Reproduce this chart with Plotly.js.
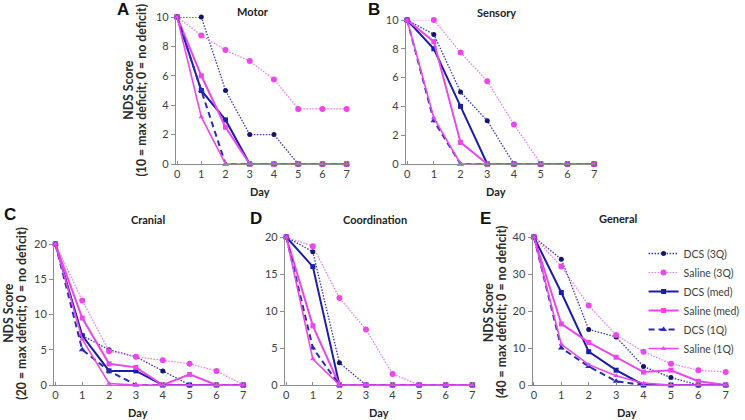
<!DOCTYPE html>
<html>
<head>
<meta charset="utf-8">
<script src="https://cdn.plot.ly/plotly-3.0.1.min.js"></script>
<style>
  html, body { margin: 0; padding: 0; background: #fff; }
  #chart { width: 745px; height: 420px; }
</style>
</head>
<body>
<div id="chart"></div>
<script>
const days = [0, 1, 2, 3, 4, 5, 6, 7];

const seriesNames = ["DCS (3Q)", "Saline (3Q)", "DCS (med)", "Saline (med)", "DCS (1Q)", "Saline (1Q)"];

// A - Motor
const motorDcs3Q = [10, 10, 5, 2, 2, 0, 0, 0];
const motorSal3Q = [10, 8.75, 7.75, 7, 5.75, 3.75, 3.75, 3.75];
const motorDcsMed = [10, 5, 3, 0, 0, 0, 0, 0];
const motorSalMed = [10, 6, 2.5, 0, 0, 0, 0, 0];
const motorDcs1Q = [10, 5, 0, 0, 0, 0, 0, 0];
const motorSal1Q = [10, 3.2, 0, 0, 0, 0, 0, 0];

// B - Sensory
const sensoryDcs3Q = [10, 9, 5, 3, 0, 0, 0, 0];
const sensorySal3Q = [10, 10, 7.75, 5.75, 2.75, 0, 0, 0];
const sensoryDcsMed = [10, 8, 4, 0, 0, 0, 0, 0];
const sensorySalMed = [10, 8.5, 1.5, 0, 0, 0, 0, 0];
const sensoryDcs1Q = [10, 3, 0, 0, 0, 0, 0, 0];
const sensorySal1Q = [10, 3.2, 0, 0, 0, 0, 0, 0];

// C - Cranial
const cranialDcs3Q = [20, 7, 5, 4, 2, 0, 0, 0];
const cranialSal3Q = [20, 12, 4.8, 4, 3.5, 3, 2, 0];
const cranialDcsMed = [20, 7, 2, 2, 0, 0, 0, 0];
const cranialSalMed = [20, 9.5, 3, 2.5, 0, 1.5, 0, 0];
const cranialDcs1Q = [20, 5, 2, 0, 0, 0, 0, 0];
const cranialSal1Q = [20, 6.5, 0.2, 0, 0, 0, 0, 0];

// D - Coordination
const coordDcs3Q = [20, 18, 3, 0, 0, 0, 0, 0];
const coordSal3Q = [20, 18.75, 11.75, 7.5, 1.5, 0, 0, 0];
const coordDcsMed = [20, 16, 0, 0, 0, 0, 0, 0];
const coordSalMed = [20, 8, 0, 0, 0, 0, 0, 0];
const coordDcs1Q = [20, 5, 0, 0, 0, 0, 0, 0];
const coordSal1Q = [20, 3.5, 0, 0, 0, 0, 0, 0];

// E - General
const generalDcs3Q = [40, 34, 15, 13, 5, 2, 0, 0];
const generalSal3Q = [40, 32, 21.5, 13.5, 9, 5.75, 4, 3.5];
const generalDcsMed = [40, 25, 9, 4, 0, 0, 0, 0];
const generalSalMed = [40, 16.5, 11.5, 7.5, 3.5, 4, 1, 0];
const generalDcs1Q = [40, 10, 5, 1, 0, 0, 0, 0];
const generalSal1Q = [40, 11, 5.5, 2.5, 0.5, 0, 0, 0];

const panels = [
  { key: "", label: "A", title: "Motor", max: 10, dtick: 2,
    data: [motorDcs3Q, motorSal3Q, motorDcsMed, motorSalMed, motorDcs1Q, motorSal1Q] },
  { key: "2", label: "B", title: "Sensory", max: 10, dtick: 2,
    data: [sensoryDcs3Q, sensorySal3Q, sensoryDcsMed, sensorySalMed, sensoryDcs1Q, sensorySal1Q] },
  { key: "3", label: "C", title: "Cranial", max: 20, dtick: 5,
    data: [cranialDcs3Q, cranialSal3Q, cranialDcsMed, cranialSalMed, cranialDcs1Q, cranialSal1Q] },
  { key: "4", label: "D", title: "Coordination", max: 20, dtick: 5,
    data: [coordDcs3Q, coordSal3Q, coordDcsMed, coordSalMed, coordDcs1Q, coordSal1Q] },
  { key: "5", label: "E", title: "General", max: 40, dtick: 10,
    data: [generalDcs3Q, generalSal3Q, generalDcsMed, generalSalMed, generalDcs1Q, generalSal1Q] },
];

const navy = "#1c1ca8";
const navyDark = "#14146e";
const magenta = "#ec46ec";

const styles = [
  { line: { color: "#3434c0", width: 1.3, dash: "1.5px,1.5px" }, marker: { symbol: "circle", size: 5, color: navyDark } },
  { line: { color: "#f070f0", width: 1.2, dash: "1.5px,1.5px" }, marker: { symbol: "circle", size: 6, color: magenta } },
  { line: { color: navy, width: 2 }, marker: { symbol: "square", size: 5, color: navy } },
  { line: { color: magenta, width: 2 }, marker: { symbol: "square", size: 5, color: magenta } },
  { line: { color: "#2a2ab8", width: 2, dash: "6px,4px" }, marker: { symbol: "triangle-up", size: 6, color: "#2a2ab8" } },
  { line: { color: magenta, width: 1.6 }, marker: { symbol: "triangle-up", size: 5, color: magenta } },
];

// pixel boxes for each panel: [left, right, top, bottom]
const W = 745, H = 420;
const boxes = [
  [179, 354, 17, 164],
  [413, 606, 20, 164],
  [55, 249, 244, 385],
  [290, 482, 237, 385],
  [542, 740, 237, 385],
];

const traces = [];
panels.forEach((p, i) => {
  p.data.forEach((vals, j) => {
    traces.push({
      x: days,
      y: vals,
      name: seriesNames[j],
      type: "scatter",
      mode: "lines+markers",
      xaxis: "x" + p.key,
      yaxis: "y" + p.key,
      showlegend: i === 4,
      cliponaxis: false,
      line: styles[j].line,
      marker: styles[j].marker,
    });
  });
});

const tickFont = { family: "Lato, 'Open Sans', sans-serif", size: 11, color: "#404040" };
const boldFont = { family: "Lato, 'Open Sans', sans-serif", size: 11, color: "#222", weight: "bold" };
const yTitleFont = { family: "Lato, 'Open Sans', sans-serif", size: 12.3, color: "#2a2a2a", weight: "bold" };

const layout = {
  width: W,
  height: H,
  margin: { l: 0, r: 0, t: 0, b: 0 },
  paper_bgcolor: "#fff",
  plot_bgcolor: "#fff",
  showlegend: true,
  legend: {
    x: 655 / W, y: 1 - 239 / H, xanchor: "left", yanchor: "top",
    font: { family: "Lato, 'Open Sans', sans-serif", size: 10.5, color: "#404040" },
    itemwidth: 30, tracegroupgap: 0,
    bgcolor: "rgba(0,0,0,0)",
  },
  annotations: [],
};

panels.forEach((p, i) => {
  const [l, r, t, b] = boxes[i];
  layout["xaxis" + p.key] = {
    domain: [l / W, r / W],
    anchor: "y" + p.key,
    range: [-0.05, 7.05],
    dtick: 1,
    showgrid: false, zeroline: false,
    showline: true, linecolor: "#8c8c8c", linewidth: 1,
    ticks: "inside", ticklen: 3, tickcolor: "#8c8c8c",
    tickfont: tickFont,
    fixedrange: true,
  };
  layout["yaxis" + p.key] = {
    domain: [1 - b / H, 1 - t / H],
    anchor: "x" + p.key,
    range: [0, p.max],
    dtick: p.dtick,
    showgrid: false, zeroline: false,
    showline: true, linecolor: "#8c8c8c", linewidth: 1,
    ticks: "outside", ticklen: 4, tickcolor: "#8c8c8c",
    tickfont: tickFont,
    fixedrange: true,
  };
});

// panel letters, titles, axis titles (pixel centres)
const letters = [[125, 9], [381, 9], [10, 214], [261, 218], [494, 218]];
const titles = [[257, 11], [505, 12], [151, 219], [382, 219], [629, 218]];
const dayPos = [[265, 192], [505, 192], [140, 412], [386, 412], [638, 412]];
// [x of "NDS Score", x of second line, y centre, scale max]
const yTitlePos = [[130, 143, 90, 10], null, [8, 21, 313, 20], null, [497, 510, 312, 40]];

const note = (text, px, py, font, extra) => Object.assign({
  text: text, xref: "paper", yref: "paper",
  x: px / W, y: 1 - py / H, xanchor: "center", yanchor: "middle",
  showarrow: false, font: font,
}, extra || {});

panels.forEach((p, i) => {
  layout.annotations.push(note("<b>" + p.label + "</b>", letters[i][0], letters[i][1],
    { family: "Liberation Sans, Arial, sans-serif", size: 17, color: "#111" }));
  layout.annotations.push(note("<b>" + p.title + "</b>", titles[i][0], titles[i][1], boldFont));
  layout.annotations.push(note("<b>Day</b>", dayPos[i][0], dayPos[i][1], boldFont, { borderpad: 0 }));
  if (yTitlePos[i]) {
    const [x1, x2, y, m] = yTitlePos[i];
    layout.annotations.push(note("<b>NDS Score</b>", x1, y, yTitleFont,
      { textangle: -90, borderpad: 0 }));
    layout.annotations.push(note("<b>(" + m + " = max deficit; 0 = no deficit)</b>", x2, y, yTitleFont,
      { textangle: -90, borderpad: 0 }));
  }
});

Plotly.newPlot("chart", traces, layout, { displayModeBar: false, staticPlot: true });
</script>
</body>
</html>
